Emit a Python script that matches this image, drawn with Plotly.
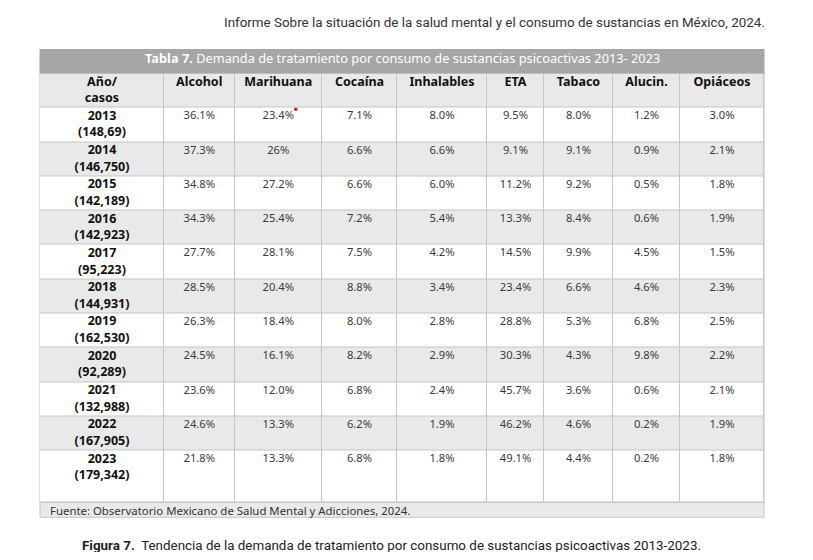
import plotly.graph_objects as go

years = ["2013", "2014", "2015", "2016", "2017", "2018", "2019", "2020", "2021", "2022", "2023"]
cases = ["148,69", "146,750", "142,189", "142,923", "95,223", "144,931",
         "162,530", "92,289", "132,988", "167,905", "179,342"]

columns = ["Alcohol", "Marihuana", "Cocaína", "Inhalables", "ETA", "Tabaco", "Alucin.", "Opiáceos"]

alcohol = ["36.1%", "37.3%", "34.8%", "34.3%", "27.7%", "28.5%", "26.3%", "24.5%", "23.6%", "24.6%", "21.8%"]
marihuana = ["23.4%", "26%", "27.2%", "25.4%", "28.1%", "20.4%", "18.4%", "16.1%", "12.0%", "13.3%", "13.3%"]
cocaina = ["7.1%", "6.6%", "6.6%", "7.2%", "7.5%", "8.8%", "8.0%", "8.2%", "6.8%", "6.2%", "6.8%"]
inhalables = ["8.0%", "6.6%", "6.0%", "5.4%", "4.2%", "3.4%", "2.8%", "2.9%", "2.4%", "1.9%", "1.8%"]
eta = ["9.5%", "9.1%", "11.2%", "13.3%", "14.5%", "23.4%", "28.8%", "30.3%", "45.7%", "46.2%", "49.1%"]
tabaco = ["8.0%", "9.1%", "9.2%", "8.4%", "9.9%", "6.6%", "5.3%", "4.3%", "3.6%", "4.6%", "4.4%"]
alucin = ["1.2%", "0.9%", "0.5%", "0.6%", "4.5%", "4.6%", "6.8%", "9.8%", "0.6%", "0.2%", "0.2%"]
opiaceos = ["3.0%", "2.1%", "1.8%", "1.9%", "1.5%", "2.3%", "2.5%", "2.2%", "2.1%", "1.9%", "1.8%"]

title_text = "<b>Tabla 7.</b> Demanda de tratamiento por consumo de sustancias psicoactivas 2013- 2023"
source_text = "Fuente: Observatorio Mexicano de Salud Mental y Adicciones, 2024."
top_note = "Informe Sobre la situación de la salud mental y el consumo de sustancias en México, 2024."
caption = "<b>Figura 7.</b>  Tendencia de la demanda de tratamiento por consumo de sustancias psicoactivas 2013-2023."

FONT = "Noto Sans"
NOTE_FONT = "Roboto"
LINE = "#c6c6c6"
GRAY = "#e9e9e9"
DARK = "#a6a6a6"

# page geometry (axis units = page pixels; the html body adds an 8px margin)
PAD = 8
W, H = 813 - 2 * PAD, 560 - 2 * PAD
col_edges = [40, 164, 234.5, 322, 397, 487, 544, 613, 680, 764]
title_top, header_top, body_top, row_h = 49, 73.5, 107.7, 34.3
source_top, source_bottom = 502.3, 517.3

row_tops = [body_top + i * row_h for i in range(len(years))]
row_edges = [header_top] + row_tops + [source_top]
centers = [(a + b) / 2 for a, b in zip(col_edges[:-1], col_edges[1:])]
value_cols = [alcohol, marihuana, cocaina, inhalables, eta, tabaco, alucin, opiaceos]

fig = go.Figure()

# cell backgrounds: header gray, then alternating white / gray rows
shade = [[1] * len(centers)] + [[i % 2] * len(centers) for i in range(len(years))]
fig.add_trace(go.Heatmap(
    z=shade, x=col_edges, y=row_edges, zmin=0, zmax=1,
    colorscale=[[0, "white"], [1, GRAY]], showscale=False,
    xgap=1, ygap=1, hoverinfo="skip",
))

# header labels
fig.add_trace(go.Scatter(
    x=centers + [centers[0]], y=[header_top + 9.3] * len(centers) + [header_top + 25.3],
    text=[f"<b>{t}</b>" for t in ["Año/"] + columns + ["casos"]],
    mode="text", textposition="middle center", hoverinfo="skip",
    textfont=dict(family=FONT, size=12.5, color="#111111"),
))

# year / cases column
fig.add_trace(go.Scatter(
    x=[centers[0]] * len(years) * 2,
    y=[t + 8.8 for t in row_tops] + [t + 25.5 for t in row_tops],
    text=[f"<b>{y}</b>" for y in years] + [f"<b>({c})</b>" for c in cases],
    mode="text", textposition="middle center", hoverinfo="skip",
    textfont=dict(family=FONT, size=12.5, color="#111111"),
))

# percentage values
xs, ys, ts = [], [], []
for cx, vals in zip(centers[1:], value_cols):
    for t, v in zip(row_tops, vals):
        xs.append(cx)
        ys.append(t + 8.8)
        ts.append(v)
fig.add_trace(go.Scatter(
    x=xs, y=ys, text=ts, mode="text", textposition="middle center", hoverinfo="skip",
    textfont=dict(family=FONT, size=11.2, color="#3a3a3a"),
))

x0, x1 = col_edges[0], col_edges[-1]
shapes = [
    # grid colour behind the cells
    dict(type="rect", xref="x", yref="y", x0=x0 - 0.5, x1=x1 + 0.5, y0=header_top - 0.5,
         y1=source_top + 0.5, fillcolor=LINE, line_width=0, layer="below"),
    # title band
    dict(type="rect", xref="x", yref="y", x0=x0 - 0.5, x1=x1 + 0.5, y0=title_top, y1=header_top,
         fillcolor=DARK, line_width=0),
    # source band
    dict(type="rect", xref="x", yref="y", x0=x0, x1=x1, y0=source_top, y1=source_bottom,
         fillcolor=GRAY, line=dict(color=LINE, width=1)),
    # small red comment marker
    dict(type="circle", xref="x", yref="y", x0=294, x1=297.5, y0=107.5, y1=111,
         fillcolor="#e8112d", line_width=0),
]

annotations = [
    dict(x=(x0 + x1) / 2, y=57.5, text=title_text, xanchor="center", yanchor="middle",
         font=dict(family=FONT, size=12.8, color="white")),
    dict(x=x0 + 8, y=510, text=source_text, xanchor="left", yanchor="middle",
         font=dict(family=FONT, size=11.4, color="#333333")),
    dict(x=767, y=22, text=top_note, xanchor="right", yanchor="middle",
         font=dict(family=NOTE_FONT, size=13.4, color="#333333")),
    dict(x=80, y=545, text=caption, xanchor="left", yanchor="middle",
         font=dict(family=NOTE_FONT, size=13.4, color="#222222")),
]
for a in annotations:
    a.update(xref="x", yref="y", showarrow=False)

fig.update_layout(
    width=W, height=H, margin=dict(l=0, r=0, t=0, b=0),
    paper_bgcolor="white", plot_bgcolor="white",
    xaxis=dict(range=[PAD, 813 - PAD], visible=False, fixedrange=True),
    yaxis=dict(range=[560 - PAD, PAD], visible=False, fixedrange=True),
    showlegend=False, shapes=shapes, annotations=annotations,
)

fig.write_html("out.html")
